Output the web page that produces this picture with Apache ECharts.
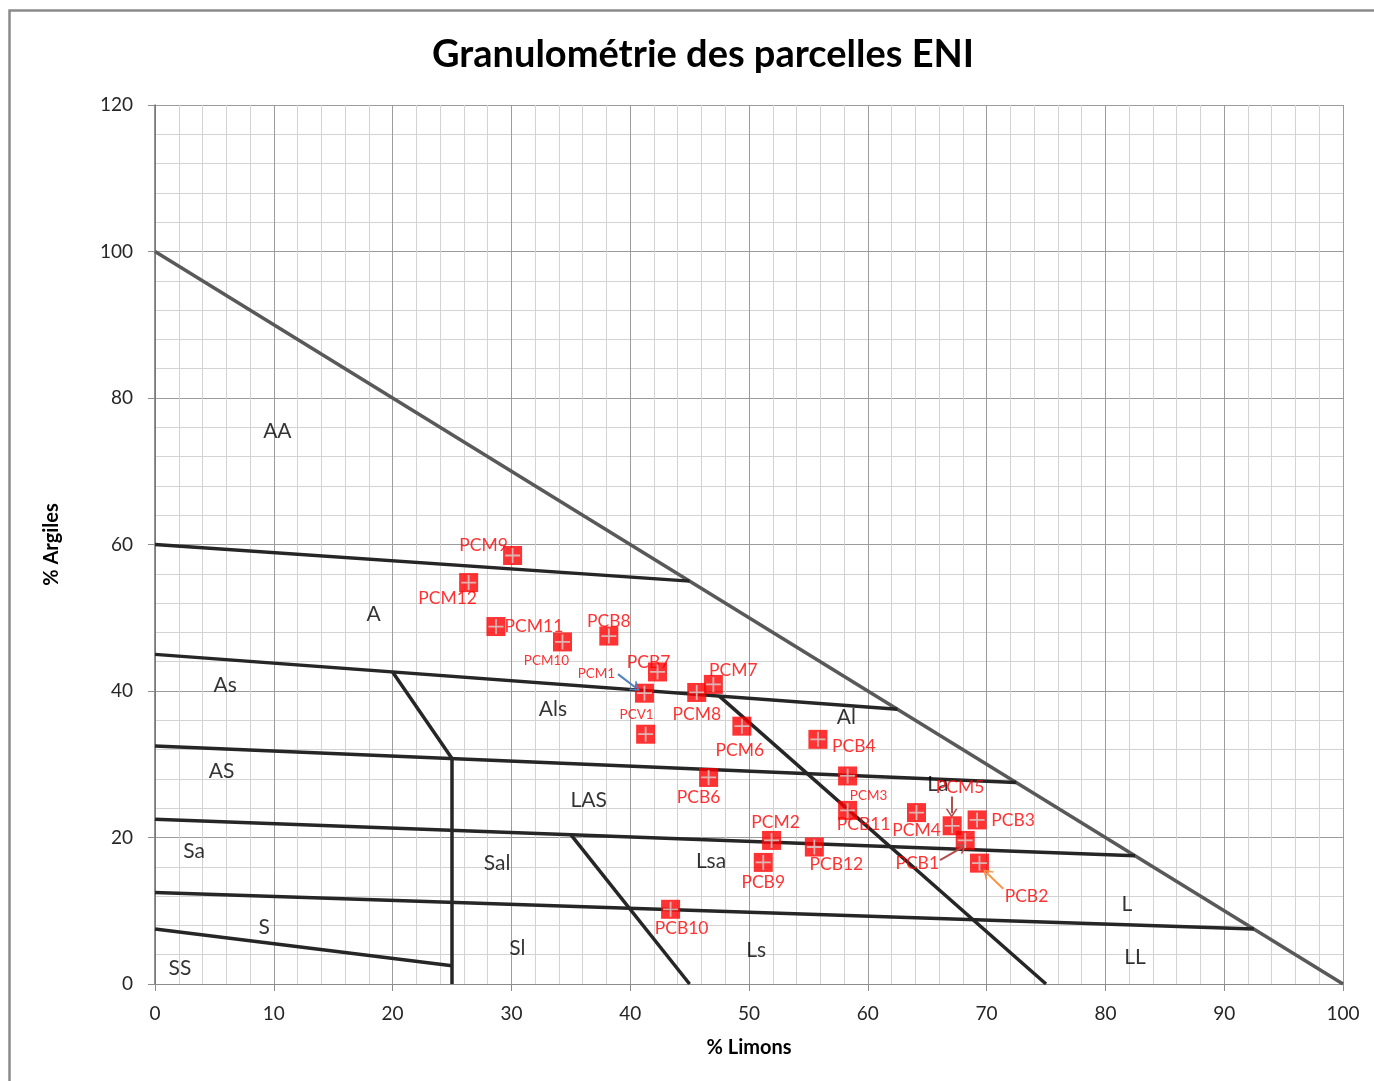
<!DOCTYPE html>
<html>
<head>
<meta charset="utf-8">
<script src="https://cdn.jsdelivr.net/npm/echarts@6/dist/echarts.min.js"></script>
<style>
  html, body { margin: 0; padding: 0; background: #ffffff; }
  #chart { width: 1374px; height: 1081px; }
</style>
</head>
<body>
<div id="chart"></div>
<script>
// Samples: silt (% Limons) and clay (% Argiles) per parcel
const sampleNames = ['PCM9', 'PCM12', 'PCM11', 'PCM10', 'PCB8', 'PCB7', 'PCM1', 'PCV1', 'PCM8', 'PCM7', 'PCM6', 'PCB4',
                     'PCB6', 'PCM3', 'PCB11', 'PCM4', 'PCM5', 'PCB3', 'PCB1', 'PCB2', 'PCM2', 'PCB12', 'PCB9', 'PCB10'];
const limons  = [30.1, 26.4, 28.7, 34.3, 38.2, 42.3, 41.2, 41.3, 45.6, 47.0, 49.4, 55.8,
                 46.6, 58.3, 58.3, 64.1, 67.1, 69.2, 68.2, 69.4, 51.9, 55.5, 51.2, 43.4];
const argiles = [58.5, 54.8, 48.8, 46.7, 47.5, 42.6, 39.7, 34.1, 39.8, 40.9, 35.2, 33.4,
                 28.2, 28.4, 23.7, 23.4, 21.6, 22.4, 19.6, 16.5, 19.6, 18.7, 16.6, 10.2];

// Texture triangle: outer limit and class boundaries (silt, clay)
const outerLimit = [[0, 100], [100, 0]];
const classBoundaries = [
  [[0, 60], [45, 55]],
  [[0, 45], [62.5, 37.5]],
  [[0, 32.5], [72.5, 27.5]],
  [[0, 22.5], [82.5, 17.5]],
  [[0, 12.5], [92.5, 7.5]],
  [[0, 7.5], [25, 2.5]],
  [[20, 42.6], [25, 30.8], [25, 0]],
  [[35, 20.4], [45, 0]],
  [[47.5, 39.3], [75, 0]]
];

// Texture class names and where they sit (silt, clay)
const classNames = ['AA', 'A', 'As', 'Als', 'Al', 'AS', 'LAS', 'La', 'Sa', 'Sal', 'Lsa', 'S', 'Sl', 'Ls', 'L', 'LL', 'SS'];
const classX = [10.3, 18.4, 5.9, 33.5, 58.2, 5.6, 36.5, 65.9, 3.3, 28.8, 46.8, 9.2, 30.5, 50.6, 81.8, 82.5, 2.1];
const classY = [75.4, 50.5, 40.8, 37.5, 36.4, 29.1, 25.1, 27.3, 18.1, 16.5, 16.7, 7.8, 4.9, 4.6, 10.9, 3.6, 2.2];

// Axis ranges
const xTicks = { min: 0, max: 100, interval: 10 };
const yTicks = { min: 0, max: 120, interval: 20 };

// Leader arrows for crowded labels: [from, to] in (silt, clay)
const leaderArrows = [
  { from: [38.97, 42.3], to: [40.5, 40.4], color: '#4f81bd' },
  { from: [67.06, 25.6], to: [67.06, 23.3], color: '#b0504e' },
  { from: [66.08, 16.9], to: [68.0, 18.7], color: '#b0504e' },
  { from: [71.4, 13.0], to: [70.0, 15.2], color: '#f79646' }
];

// Label placement per sample: pixel offset from the marker, small text flag
const labelLayout = {
  PCM9: [-29, -10], PCM12: [-21, 16], PCM11: [38, 0], PCM10: [-16, 19, 1], PCB8: [0, -15],
  PCB7: [-9, -10], PCM1: [-48, -20, 1], PCV1: [-9, -20, 1], PCM8: [0, 22], PCM7: [20, -14],
  PCM6: [-2, 24], PCB4: [36, 7], PCB6: [-10, 20], PCM3: [21, 20, 1], PCB11: [16, 14],
  PCM4: [0, 18], PCM5: [8, -38], PCB3: [36, 0], PCB1: [-48, 23], PCB2: [47, 33],
  PCM2: [4, -18], PCB12: [22, 17], PCB9: [0, 20], PCB10: [11, 19]
};

const FONT = 'Lato, "Open Sans", sans-serif';
const points = sampleNames.map((n, i) => [limons[i], argiles[i]]);

const boundarySeries = classBoundaries.map(seg => ({
  type: 'line', data: seg, symbol: 'none', silent: true, z: 2,
  lineStyle: { color: '#262626', width: 3.5 }
}));

const option = {
  animation: false,
  backgroundColor: '#ffffff',
  title: {
    text: 'Granulométrie des parcelles ENI',
    left: 427, top: 31,
    textStyle: { fontFamily: FONT, fontWeight: 'bold', fontSize: 38, color: '#000000' }
  },
  grid: { left: 155, top: 105, width: 1188, height: 879, show: false },
  xAxis: {
    type: 'value', min: xTicks.min, max: xTicks.max, interval: xTicks.interval,
    name: '% Limons', nameLocation: 'middle', nameGap: 54,
    nameTextStyle: { fontFamily: FONT, fontWeight: 'bold', fontSize: 20, color: '#000' },
    axisLine: { show: true, lineStyle: { color: '#8c8c8c', width: 1 } },
    axisTick: { show: true, length: 7, lineStyle: { color: '#8c8c8c' } },
    axisLabel: { margin: 20, fontFamily: FONT, fontSize: 19, color: '#262626' },
    splitLine: { show: true, lineStyle: { color: '#9c9c9c', width: 1 } },
    minorTick: { show: false, splitNumber: 5 },
    minorSplitLine: { show: true, lineStyle: { color: '#d3d3d3', width: 1 } }
  },
  yAxis: {
    type: 'value', min: yTicks.min, max: yTicks.max, interval: yTicks.interval,
    name: '% Argiles', nameLocation: 'middle', nameGap: 93, nameRotate: 90,
    nameTextStyle: { fontFamily: FONT, fontWeight: 'bold', fontSize: 20, color: '#000' },
    axisLine: { show: true, lineStyle: { color: '#6e6e6e', width: 1.5 } },
    axisTick: { show: true, length: 7, lineStyle: { color: '#8c8c8c' } },
    axisLabel: { margin: 22, fontFamily: FONT, fontSize: 19, color: '#262626' },
    splitLine: { show: true, lineStyle: { color: '#9c9c9c', width: 1 } },
    minorTick: { show: false, splitNumber: 5 },
    minorSplitLine: { show: true, lineStyle: { color: '#d3d3d3', width: 1 } }
  },
  graphic: [{
    type: 'rect', silent: true,
    shape: { x: 9.5, y: 10.5, width: 1420, height: 1120 },
    style: { fill: 'none', stroke: '#8a8a8a', lineWidth: 2.5 }
  }],
  series: [
    {
      type: 'line', data: outerLimit, symbol: 'none', silent: true, z: 2,
      lineStyle: { color: '#595959', width: 3.5 }
    },
    ...boundarySeries,
    {
      // texture class names
      type: 'scatter', silent: true, z: 3, symbolSize: 1,
      itemStyle: { color: 'transparent' },
      data: classNames.map((n, i) => ({ value: [classX[i], classY[i]], name: n })),
      label: {
        show: true, position: 'inside', formatter: p => p.name,
        fontFamily: FONT, fontSize: 21, color: '#000000'
      }
    },
    {
      // sample names, kept under the markers
      type: 'scatter', silent: true, z: 3, symbolSize: 1,
      itemStyle: { color: 'transparent' },
      data: sampleNames.map((n, i) => {
        const l = labelLayout[n];
        return {
          value: points[i], name: n,
          label: { offset: [l[0], l[1]], fontSize: l[2] ? 13.5 : 17.5 }
        };
      }),
      label: {
        show: true, position: 'inside', formatter: p => p.name,
        fontFamily: FONT, color: '#ff0000'
      },
      markLine: {
        silent: true, animation: false,
        symbol: ['none', 'path://M0,10 L5,0 L10,10 L8.4,10 L5,3.2 L1.6,10 Z'],
        symbolSize: [12, 9],
        label: { show: false },
        data: leaderArrows.map(a => [
          { coord: a.from, lineStyle: { color: a.color, width: 2, type: 'solid' } },
          { coord: a.to }
        ])
      }
    },
    {
      // red square markers
      type: 'scatter', silent: true, z: 4, data: points,
      symbol: 'rect', symbolSize: 19,
      itemStyle: { color: '#ff0000' }
    },
    {
      // light cross inside each marker
      type: 'scatter', silent: true, z: 5, data: points,
      symbol: 'path://M44,0 H56 V100 H44 Z M0,44 H100 V56 H0 Z', symbolSize: 15,
      itemStyle: { color: '#d6d6d6' }
    }
  ]
};

const chart = echarts.init(document.getElementById('chart'), null, { renderer: 'canvas' });
chart.setOption(option);
</script>
</body>
</html>
